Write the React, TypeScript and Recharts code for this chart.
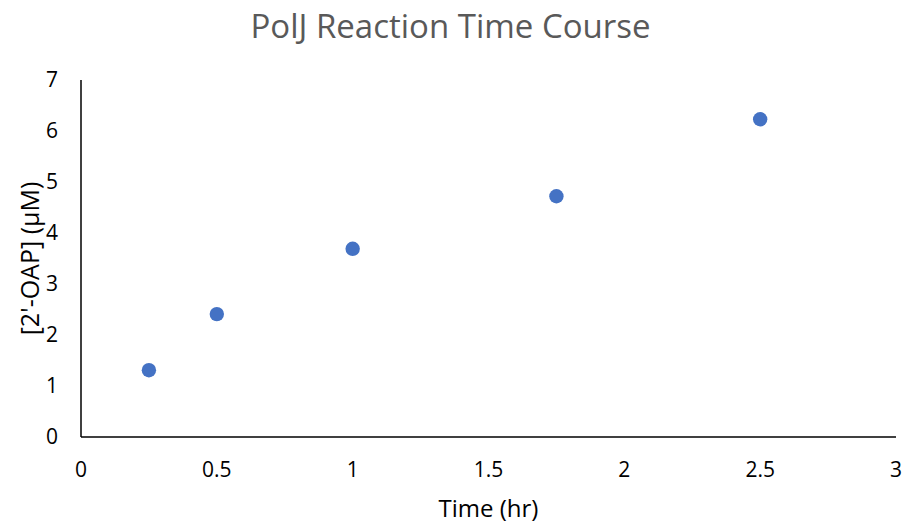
import React from "react";
import { ScatterChart, Scatter, XAxis, YAxis, Label } from "recharts";

// Reaction time course measurements
const timeHr = [0.25, 0.5, 1, 1.75, 2.5];
const oapMicroM = [1.31, 2.41, 3.69, 4.72, 6.23];
const xTicks = [0, 0.5, 1, 1.5, 2, 2.5, 3];
const yTicks = [0, 1, 2, 3, 4, 5, 6, 7];

const points = timeHr.map((t, i) => ({ t, c: oapMicroM[i] }));

const FONT = "'Open Sans', sans-serif";

const Dot = (props: any) => <circle cx={props.cx} cy={props.cy} r={7.2} fill="#4472C4" />;

export default function App() {
  return (
    <div style={{ position: "fixed", left: 0, top: 0, width: 905, height: 523, background: "#fff", fontFamily: FONT }}>
      <div
        style={{
          position: "absolute",
          left: 0,
          top: 9,
          width: 901,
          textAlign: "center",
          fontSize: 33,
          lineHeight: "33px",
          color: "#595959",
          fontFamily: FONT,
        }}
      >
        PolJ Reaction Time Course
      </div>
      <ScatterChart width={905} height={523} margin={{ top: 80, right: 9, left: 0, bottom: 0 }}>
        <XAxis
          type="number"
          dataKey="t"
          domain={[0, 3]}
          ticks={xTicks}
          height={86}
          tickSize={0}
          tickMargin={25}
          tickLine={false}
          axisLine={{ stroke: "#000", strokeWidth: 1.5 }}
          tick={{ fill: "#000", fontSize: 21, fontFamily: FONT }}
          allowDataOverflow
        >
          <Label
            content={({ viewBox }: any) => (
              <text
                x={viewBox.x + viewBox.width / 2}
                y={viewBox.y + 80}
                textAnchor="middle"
                fill="#000"
                fontSize={24}
                fontFamily={FONT}
              >
                Time (hr)
              </text>
            )}
          />
        </XAxis>
        <YAxis
          type="number"
          dataKey="c"
          domain={[0, 7]}
          ticks={yTicks}
          width={81}
          tickSize={0}
          tickMargin={23}
          tickLine={false}
          axisLine={{ stroke: "#000", strokeWidth: 1.5 }}
          tick={{ fill: "#000", fontSize: 21, fontFamily: FONT }}
          allowDataOverflow
        >
          <Label
            content={({ viewBox }: any) => {
              const cx = viewBox.x + 29;
              const cy = viewBox.y + viewBox.height / 2;
              return (
                <text
                  x={cx}
                  y={cy}
                  transform={`rotate(-90 ${cx} ${cy})`}
                  textAnchor="middle"
                  dominantBaseline="central"
                  fill="#000"
                  fontSize={25}
                  fontFamily={FONT}
                >
                  [2'-OAP] (μM)
                </text>
              );
            }}
          />
        </YAxis>
        <Scatter data={points} fill="#4472C4" shape={Dot} isAnimationActive={false} />
      </ScatterChart>
    </div>
  );
}
